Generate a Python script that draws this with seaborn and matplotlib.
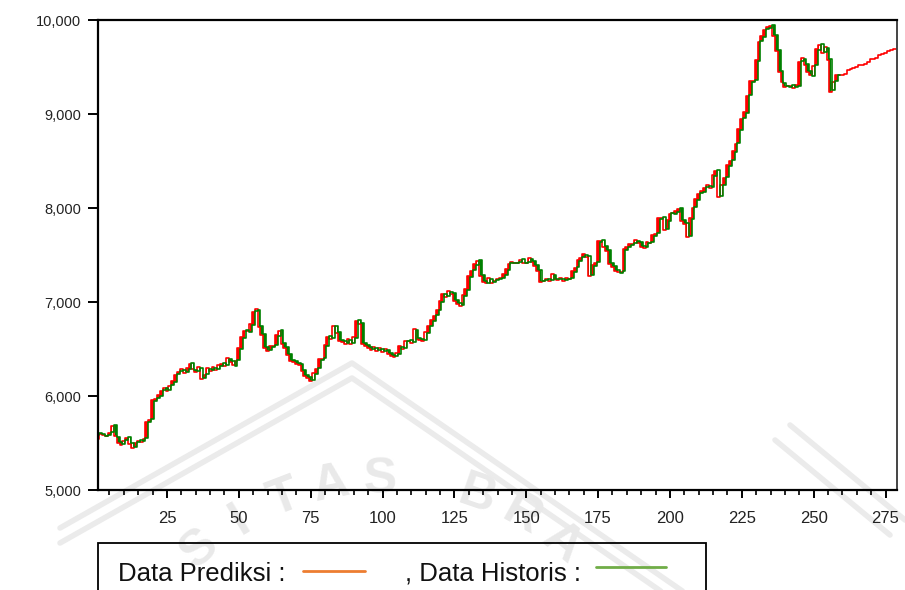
import numpy as np
import pandas as pd
import seaborn as sns
import matplotlib
matplotlib.use("Agg")
import matplotlib.pyplot as plt
from matplotlib.patches import Rectangle
from matplotlib.lines import Line2D
from matplotlib.ticker import FuncFormatter, MultipleLocator

# Historical series (observations 1..259)
historis = [
    5590, 5610, 5600, 5570, 5580, 5620, 5690, 5560, 5510, 5490,
    5530, 5560, 5500, 5460, 5510, 5530, 5520, 5550, 5720, 5760,
    5950, 5980, 6000, 6060, 6080, 6060, 6120, 6150, 6230, 6270,
    6280, 6260, 6290, 6350, 6280, 6270, 6300, 6190, 6230, 6290,
    6280, 6300, 6290, 6320, 6350, 6330, 6390, 6370, 6320, 6380,
    6500, 6620, 6700, 6680, 6760, 6900, 6920, 6740, 6660, 6520,
    6490, 6520, 6540, 6640, 6700, 6560, 6520, 6450, 6380, 6370,
    6350, 6340, 6280, 6220, 6200, 6170, 6230, 6300, 6380, 6400,
    6530, 6640, 6620, 6740, 6680, 6600, 6580, 6560, 6600, 6560,
    6620, 6810, 6780, 6560, 6540, 6520, 6500, 6510, 6490, 6500,
    6480, 6490, 6460, 6440, 6430, 6450, 6520, 6510, 6580, 6600,
    6570, 6700, 6620, 6610, 6600, 6670, 6750, 6800, 6860, 6910,
    7000, 7090, 7060, 7110, 7100, 7020, 6990, 6970, 7060, 7130,
    7270, 7340, 7390, 7450, 7290, 7220, 7200, 7250, 7210, 7230,
    7250, 7260, 7290, 7340, 7410, 7420, 7420, 7430, 7460, 7420,
    7430, 7460, 7440, 7390, 7340, 7220, 7230, 7240, 7230, 7290,
    7250, 7240, 7250, 7230, 7250, 7260, 7320, 7370, 7440, 7480,
    7500, 7490, 7290, 7380, 7430, 7640, 7660, 7600, 7550, 7420,
    7380, 7340, 7310, 7330, 7550, 7590, 7610, 7630, 7650, 7640,
    7600, 7580, 7630, 7640, 7700, 7730, 7880, 7900, 7780, 7860,
    7950, 7940, 7960, 8000, 7870, 7840, 7700, 7880, 8010, 8090,
    8160, 8170, 8220, 8230, 8220, 8340, 8400, 8130, 8240, 8330,
    8450, 8510, 8600, 8690, 8830, 8960, 9010, 9200, 9340, 9360,
    9560, 9780, 9820, 9900, 9920, 9950, 9840, 9680, 9460, 9330,
    9300, 9290, 9310, 9290, 9300, 9560, 9590, 9530, 9460, 9400,
    9520, 9680, 9740, 9660, 9700, 9580, 9260, 9350, 9420,
]

# Model output: in-sample fit (1..258) followed by the out-of-sample forecast
prediksi = [
    5540, 5600, 5580, 5570, 5610, 5680, 5570, 5500, 5480, 5520,
    5550, 5490, 5450, 5500, 5520, 5510, 5540, 5720, 5750, 5960,
    5970, 6010, 6050, 6090, 6050, 6110, 6160, 6220, 6260, 6290,
    6250, 6300, 6340, 6290, 6260, 6310, 6180, 6220, 6300, 6270,
    6310, 6280, 6330, 6340, 6320, 6400, 6360, 6330, 6370, 6510,
    6630, 6690, 6690, 6770, 6890, 6930, 6730, 6650, 6510, 6480,
    6530, 6530, 6650, 6690, 6550, 6510, 6440, 6370, 6360, 6340,
    6330, 6270, 6210, 6190, 6160, 6240, 6290, 6390, 6390, 6540,
    6630, 6610, 6750, 6670, 6590, 6570, 6550, 6610, 6550, 6630,
    6800, 6770, 6550, 6530, 6510, 6490, 6520, 6480, 6510, 6470,
    6500, 6450, 6430, 6420, 6460, 6530, 6500, 6590, 6590, 6560,
    6710, 6610, 6600, 6590, 6680, 6740, 6810, 6850, 6920, 7010,
    7080, 7050, 7120, 7090, 7010, 6980, 6960, 7070, 7140, 7280,
    7330, 7400, 7440, 7280, 7210, 7200, 7260, 7200, 7220, 7240,
    7260, 7300, 7350, 7400, 7430, 7410, 7420, 7450, 7410, 7420,
    7470, 7430, 7380, 7330, 7210, 7220, 7250, 7220, 7300, 7240,
    7230, 7260, 7220, 7260, 7250, 7330, 7360, 7450, 7470, 7510,
    7480, 7280, 7390, 7420, 7650, 7650, 7590, 7540, 7400, 7370,
    7330, 7320, 7320, 7560, 7580, 7620, 7620, 7660, 7630, 7590,
    7570, 7640, 7630, 7710, 7720, 7890, 7890, 7770, 7870, 7940,
    7950, 7970, 7990, 7860, 7830, 7690, 7890, 8000, 8100, 8150,
    8180, 8210, 8240, 8210, 8350, 8390, 8120, 8250, 8320, 8460,
    8500, 8610, 8680, 8840, 8950, 9020, 9190, 9350, 9350, 9570,
    9770, 9830, 9890, 9930, 9940, 9830, 9670, 9450, 9340, 9290,
    9300, 9300, 9280, 9310, 9550, 9600, 9520, 9450, 9410, 9510,
    9690, 9730, 9650, 9710, 9570, 9230, 9340, 9410,
    9420, 9420, 9430, 9470, 9480, 9490, 9500, 9520, 9520, 9530,
    9550, 9580, 9590, 9600, 9630, 9640, 9650, 9670, 9680, 9690,
    9690,
]

x_ticks = [25, 50, 75, 100, 125, 150, 175, 200, 225, 250, 275]
y_ticks = [5000, 6000, 7000, 8000, 9000, 10000]

obs_h = np.arange(1, len(historis) + 1)
obs_p = np.arange(1, len(prediksi) + 1)
df_h = pd.DataFrame({"obs": obs_h, "nilai": historis})
df_p = pd.DataFrame({"obs": obs_p, "nilai": prediksi})

sns.set_theme(style="white")
plt.rcParams["font.family"] = ["Liberation Sans", "DejaVu Sans"]

W, H = 905, 590
fig = plt.figure(figsize=(W / 100, H / 100), dpi=100)


def fx(px):
    return px / W


def fy(py):
    return 1 - py / H


# faint page seal sitting behind everything
SEAL = "#ebebeb"
for off in (0, 15):
    fig.lines.append(Line2D([fx(60), fx(352), fx(720)],
                            [fy(528 + off), fy(363 + off), fy(617 + off)],
                            transform=fig.transFigure, color=SEAL,
                            linewidth=4, zorder=0))
    fig.lines.append(Line2D([fx(790 - off), fx(905 - off)],
                            [fy(425 + off), fy(520 + off)],
                            transform=fig.transFigure, color=SEAL,
                            linewidth=4, zorder=0))
cx, cy, rad = 385, 762, 282
for letter, ang in zip("SITAS BRA", range(41, -40, -10)):
    if letter == " ":
        continue
    a = np.radians(ang)
    fig.text(fx(cx - rad * np.sin(a)), fy(cy - rad * np.cos(a)), letter,
             rotation=ang, fontsize=36, fontweight="bold", color="#e9e9e9",
             ha="center", va="center", zorder=0)

ax = fig.add_axes([fx(98), fy(490), 799 / W, 470 / H])
ax.patch.set_alpha(0)
ax.set_zorder(2)

RED = "#ff0000"
GREEN = "#008000"

# blocks between the two step traces
n = len(historis)
fit = np.array(prediksi[:n], dtype=float)
act = np.array(historis, dtype=float)
ax.fill_between(obs_h, fit, act, where=fit >= act, step="mid",
                color=RED, linewidth=0, interpolate=False)
ax.fill_between(obs_h, fit, act, where=act > fit, step="mid",
                color=GREEN, linewidth=0, interpolate=False)

sns.lineplot(data=df_p, x="obs", y="nilai", ax=ax, color=RED,
             linewidth=1.2, drawstyle="steps-mid", estimator=None)
sns.lineplot(data=df_h, x="obs", y="nilai", ax=ax, color=GREEN,
             linewidth=1.2, drawstyle="steps-mid", estimator=None)

ax.set_xlim(1, 279)
ax.set_ylim(5000, 10000)
ax.set_xlabel("")
ax.set_ylabel("")

ax.set_yticks(y_ticks)
ax.yaxis.set_major_formatter(FuncFormatter(lambda v, p: f"{int(v):,}"))
ax.set_xticks(x_ticks)
ax.xaxis.set_minor_locator(MultipleLocator(5))

ax.tick_params(axis="y", which="major", direction="out", length=7, width=1.4,
               color="black", pad=5, labelsize=10.5, labelcolor="#222222",
               left=True)
ax.tick_params(axis="x", which="major", direction="out", length=6, width=1.4,
               color="black", pad=9, labelsize=12, labelcolor="#222222",
               bottom=True)
ax.tick_params(axis="x", which="minor", direction="out", length=3.5, width=1.2,
               color="black", bottom=True)

for side in ["left", "top", "bottom"]:
    ax.spines[side].set_color("black")
    ax.spines[side].set_linewidth(1.6)
ax.spines["right"].set_color("#444444")
ax.spines["right"].set_linewidth(1.4)
ax.grid(False)

# legend strip underneath the chart
fig.patches.append(Rectangle((fx(98), -0.02), (706 - 98) / W, 0.02 + fy(543),
                             transform=fig.transFigure, fill=False,
                             edgecolor="black", linewidth=1.3, zorder=3))
ty = fy(574)
fig.text(fx(118), ty, "Data Prediksi :", fontsize=18.5, color="#111111",
         va="center", ha="left", zorder=3)
fig.lines.append(Line2D([fx(303), fx(365)], [fy(571)] * 2,
                        transform=fig.transFigure, color="#ED7D31",
                        linewidth=2, zorder=3))
fig.text(fx(405), ty, ", Data Historis :", fontsize=18.5, color="#111111",
         va="center", ha="left", zorder=3)
fig.lines.append(Line2D([fx(596), fx(666)], [fy(567)] * 2,
                        transform=fig.transFigure, color="#70AD47",
                        linewidth=2, zorder=3))

fig.savefig("out.png", dpi=100)
